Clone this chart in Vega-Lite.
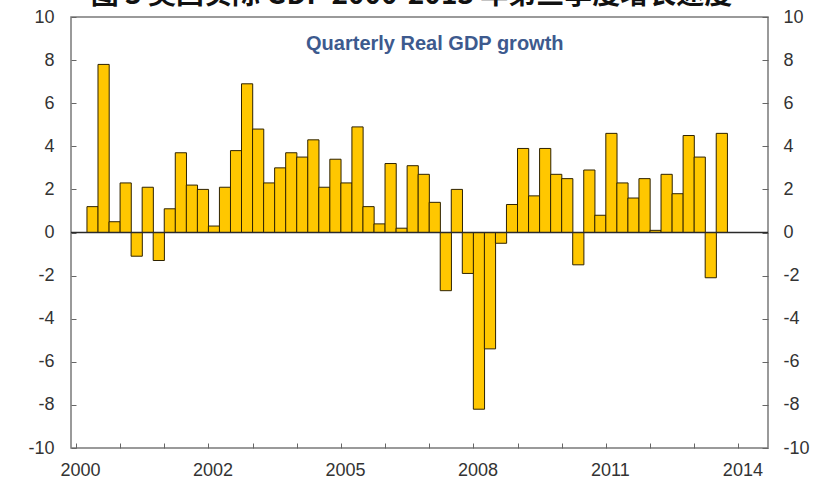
{
  "$schema": "https://vega.github.io/schema/vega-lite/v6.json",
  "width": 697,
  "height": 431,
  "autosize": {"type": "none"},
  "padding": {"left": 71, "top": 17, "right": 48, "bottom": 40},
  "background": "white",
  "config": {
    "view": {"stroke": "#7a7a7a", "strokeWidth": 1.5},
    "font": "Liberation Sans",
    "axis": {"labelFont": "Liberation Sans", "labelColor": "#333333", "tickColor": "#666666", "domain": false, "grid": false, "title": null}
  },
  "title": {
    "text": "图 3  美国实际 GDP 2000-2013 年第三季度增长速度",
    "font": "Noto Sans CJK SC",
    "fontSize": 28,
    "fontWeight": "bold",
    "color": "#111111",
    "anchor": "middle",
    "dx": -8,
    "offset": -2
  },
  "data": {
    "values": [
      {"q": "2000Q1", "i": 1, "g": 1.2}, {"q": "2000Q2", "i": 2, "g": 7.8}, {"q": "2000Q3", "i": 3, "g": 0.5}, {"q": "2000Q4", "i": 4, "g": 2.3},
      {"q": "2001Q1", "i": 5, "g": -1.1}, {"q": "2001Q2", "i": 6, "g": 2.1}, {"q": "2001Q3", "i": 7, "g": -1.3}, {"q": "2001Q4", "i": 8, "g": 1.1},
      {"q": "2002Q1", "i": 9, "g": 3.7}, {"q": "2002Q2", "i": 10, "g": 2.2}, {"q": "2002Q3", "i": 11, "g": 2.0}, {"q": "2002Q4", "i": 12, "g": 0.3},
      {"q": "2003Q1", "i": 13, "g": 2.1}, {"q": "2003Q2", "i": 14, "g": 3.8}, {"q": "2003Q3", "i": 15, "g": 6.9}, {"q": "2003Q4", "i": 16, "g": 4.8},
      {"q": "2004Q1", "i": 17, "g": 2.3}, {"q": "2004Q2", "i": 18, "g": 3.0}, {"q": "2004Q3", "i": 19, "g": 3.7}, {"q": "2004Q4", "i": 20, "g": 3.5},
      {"q": "2005Q1", "i": 21, "g": 4.3}, {"q": "2005Q2", "i": 22, "g": 2.1}, {"q": "2005Q3", "i": 23, "g": 3.4}, {"q": "2005Q4", "i": 24, "g": 2.3},
      {"q": "2006Q1", "i": 25, "g": 4.9}, {"q": "2006Q2", "i": 26, "g": 1.2}, {"q": "2006Q3", "i": 27, "g": 0.4}, {"q": "2006Q4", "i": 28, "g": 3.2},
      {"q": "2007Q1", "i": 29, "g": 0.2}, {"q": "2007Q2", "i": 30, "g": 3.1}, {"q": "2007Q3", "i": 31, "g": 2.7}, {"q": "2007Q4", "i": 32, "g": 1.4},
      {"q": "2008Q1", "i": 33, "g": -2.7}, {"q": "2008Q2", "i": 34, "g": 2.0}, {"q": "2008Q3", "i": 35, "g": -1.9}, {"q": "2008Q4", "i": 36, "g": -8.2},
      {"q": "2009Q1", "i": 37, "g": -5.4}, {"q": "2009Q2", "i": 38, "g": -0.5}, {"q": "2009Q3", "i": 39, "g": 1.3}, {"q": "2009Q4", "i": 40, "g": 3.9},
      {"q": "2010Q1", "i": 41, "g": 1.7}, {"q": "2010Q2", "i": 42, "g": 3.9}, {"q": "2010Q3", "i": 43, "g": 2.7}, {"q": "2010Q4", "i": 44, "g": 2.5},
      {"q": "2011Q1", "i": 45, "g": -1.5}, {"q": "2011Q2", "i": 46, "g": 2.9}, {"q": "2011Q3", "i": 47, "g": 0.8}, {"q": "2011Q4", "i": 48, "g": 4.6},
      {"q": "2012Q1", "i": 49, "g": 2.3}, {"q": "2012Q2", "i": 50, "g": 1.6}, {"q": "2012Q3", "i": 51, "g": 2.5}, {"q": "2012Q4", "i": 52, "g": 0.1},
      {"q": "2013Q1", "i": 53, "g": 2.7}, {"q": "2013Q2", "i": 54, "g": 1.8}, {"q": "2013Q3", "i": 55, "g": 4.5}, {"q": "2013Q4", "i": 56, "g": 3.5},
      {"q": "2014Q1", "i": 57, "g": -2.1}, {"q": "2014Q2", "i": 58, "g": 4.6}
    ]
  },
  "layer": [
    {
      "mark": {"type": "bar", "size": 11.2, "fill": "#FFC700", "stroke": "#2e2200", "strokeWidth": 1},
      "encoding": {
        "x": {
          "field": "i", "type": "quantitative",
          "scale": {"domain": [-0.5, 61.73], "nice": false, "zero": false},
          "axis": {
            "orient": "bottom",
            "values": [-0.5, 3.5, 7.5, 11.5, 15.5, 19.5, 23.5, 27.5, 31.5, 35.5, 39.5, 43.5, 47.5, 51.5, 55.5, 59.5],
            "labelExpr": "datum.value == -0.5 ? '2000' : datum.value == 11.5 ? '2002' : datum.value == 23.5 ? '2005' : datum.value == 35.5 ? '2008' : datum.value == 47.5 ? '2011' : datum.value == 59.5 ? '2014' : ''",
            "tickSize": -5,
            "labelPadding": 18,
            "labelOffset": 4,
            "labelFontSize": 18,
            "labelOverlap": false,
            "labelBound": false,
            "labelFlush": false
          }
        },
        "y": {
          "field": "g", "type": "quantitative",
          "scale": {"domain": [-10, 10], "nice": false},
          "axis": {
            "orient": "left",
            "values": [-10, -8, -6, -4, -2, 0, 2, 4, 6, 8, 10],
            "labelExpr": "datum.value + ''",
            "tickSize": -5,
            "labelPadding": 22,
            "labelFontSize": 18
          }
        }
      }
    },
    {
      "data": {"values": [{"v": 0}]},
      "mark": {"type": "rule", "color": "#2a2a2a", "strokeWidth": 1.3},
      "encoding": {
        "y": {
          "field": "v", "type": "quantitative",
          "scale": {"domain": [-10, 10], "nice": false},
          "axis": {
            "orient": "right",
            "values": [-10, -8, -6, -4, -2, 0, 2, 4, 6, 8, 10],
            "labelExpr": "datum.value + ''",
            "tickSize": -6,
            "labelPadding": 21,
            "labelFontSize": 18
          }
        }
      }
    },
    {
      "data": {"values": [{"label": "Quarterly Real GDP growth", "x": 32, "y": 8.45}]},
      "mark": {"type": "text", "font": "Liberation Sans", "fontSize": 20, "fontWeight": "bold", "color": "#3D5A8E", "align": "center", "baseline": "alphabetic"},
      "encoding": {
        "x": {"field": "x", "type": "quantitative"},
        "y": {"field": "y", "type": "quantitative", "scale": {"domain": [-10, 10], "nice": false}, "axis": null},
        "text": {"field": "label"}
      }
    }
  ],
  "resolve": {"scale": {"y": "independent"}}
}
